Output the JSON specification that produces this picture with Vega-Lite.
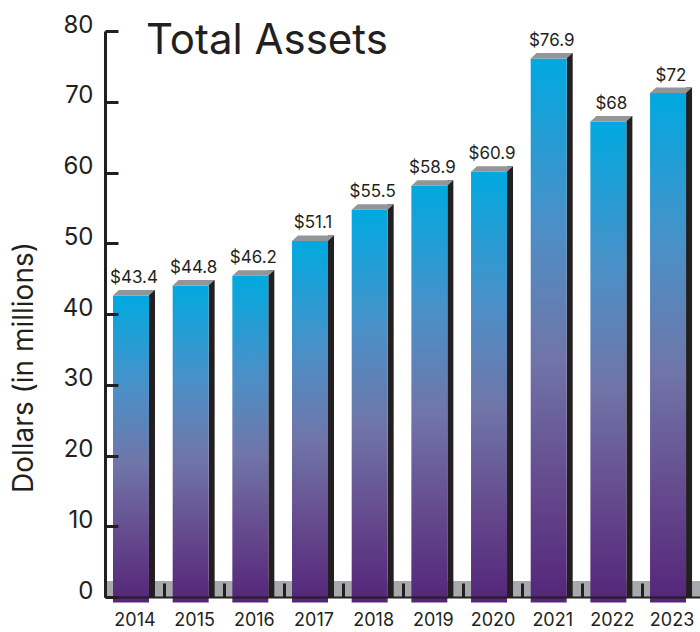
{
  "$schema": "https://vega.github.io/schema/vega-lite/v6.json",
  "width": 595,
  "height": 566,
  "autosize": "none",
  "padding": {"left": 105, "top": 31, "right": 0, "bottom": 35},
  "background": "white",
  "config": {"font": "Inter", "view": {"stroke": null}},
  "title": {
    "text": "Total Assets",
    "anchor": "start",
    "frame": "group",
    "dx": 41,
    "offset": -83,
    "baseline": "alphabetic",
    "fontSize": 42,
    "fontWeight": "normal",
    "color": "#231f20",
    "font": "Inter"
  },
  "data": {
    "values": [
      {"year": "2014", "assets": 43.4},
      {"year": "2015", "assets": 44.8},
      {"year": "2016", "assets": 46.2},
      {"year": "2017", "assets": 51.1},
      {"year": "2018", "assets": 55.5},
      {"year": "2019", "assets": 58.9},
      {"year": "2020", "assets": 60.9},
      {"year": "2021", "assets": 76.9},
      {"year": "2022", "assets": 68},
      {"year": "2023", "assets": 72}
    ]
  },
  "layer": [
    {
      "mark": {"type": "rule", "strokeWidth": 16, "yOffset": -8, "color": "#a7a9ac"},
      "encoding": {
        "y": {
          "datum": 0,
          "type": "quantitative",
          "scale": {"domain": [0, 80], "nice": false},
          "axis": {
            "title": "Dollars (in millions)",
            "values": [0, 10, 20, 30, 40, 50, 60, 70, 80],
            "grid": false,
            "domainColor": "#231f20",
            "domainWidth": 3,
            "tickColor": "#231f20",
            "tickWidth": 3,
            "tickSize": -13,
            "labelFontSize": 24,
            "labelColor": "#231f20",
            "labelPadding": 25,
            "labelBaseline": "alphabetic",
            "labelOffset": 1,
            "titleFontSize": 28,
            "titleFontWeight": "normal",
            "titleColor": "#231f20",
            "titleX": -73,
            "titleY": 336,
            "titleAngle": 270,
            "titleBaseline": "alphabetic",
            "titleAlign": "center",
            "zindex": 1
          }
        }
      }
    },
    {
      "mark": {"type": "bar", "width": 6, "xOffset": 21, "color": "#231f20"},
      "encoding": {
        "x": {
          "field": "year",
          "type": "ordinal",
          "scale": {"paddingInner": 0.397, "paddingOuter": 0.184, "align": 0.364},
          "axis": {
            "title": null,
            "labelAngle": 0,
            "domainColor": "#231f20",
            "domainWidth": 2,
            "tickColor": "#231f20",
            "tickWidth": 3,
            "tickSize": -14,
            "bandPosition": -0.222,
            "labelOffset": 4,
            "labelFontSize": 18,
            "labelColor": "#231f20",
            "labelPadding": 42,
            "labelBaseline": "alphabetic",
            "zindex": 1
          }
        },
        "y": {"field": "assets", "type": "quantitative"}
      }
    },
    {
      "mark": {
        "type": "bar",
        "yOffset": 5.5,
        "color": {
          "gradient": "linear",
          "x1": 0, "y1": 0, "x2": 0, "y2": 1,
          "stops": [
            {"offset": 0, "color": "#00a9e0"},
            {"offset": 0.3, "color": "#4a90c8"},
            {"offset": 0.55, "color": "#7075a8"},
            {"offset": 0.8, "color": "#64478c"},
            {"offset": 1, "color": "#542579"}
          ]
        }
      },
      "encoding": {
        "x": {"field": "year", "type": "ordinal"},
        "y": {"field": "assets", "type": "quantitative"}
      }
    },
    {
      "mark": {
        "type": "point",
        "shape": "M -0.75 0.229 L 0.75 0.229 L 1 0 L -0.5 0 Z",
        "size": 2304,
        "filled": true,
        "color": "#939598",
        "opacity": 1,
        "strokeWidth": 0
      },
      "encoding": {
        "x": {"field": "year", "type": "ordinal"},
        "y": {"field": "assets", "type": "quantitative"}
      }
    },
    {
      "mark": {
        "type": "text",
        "dy": -7,
        "xOffset": 3,
        "baseline": "alphabetic",
        "align": "center",
        "fontSize": 17,
        "color": "#231f20"
      },
      "encoding": {
        "x": {"field": "year", "type": "ordinal"},
        "y": {"field": "assets", "type": "quantitative"},
        "text": {"field": "assets", "type": "quantitative", "format": "$.3~g"}
      }
    }
  ]
}
